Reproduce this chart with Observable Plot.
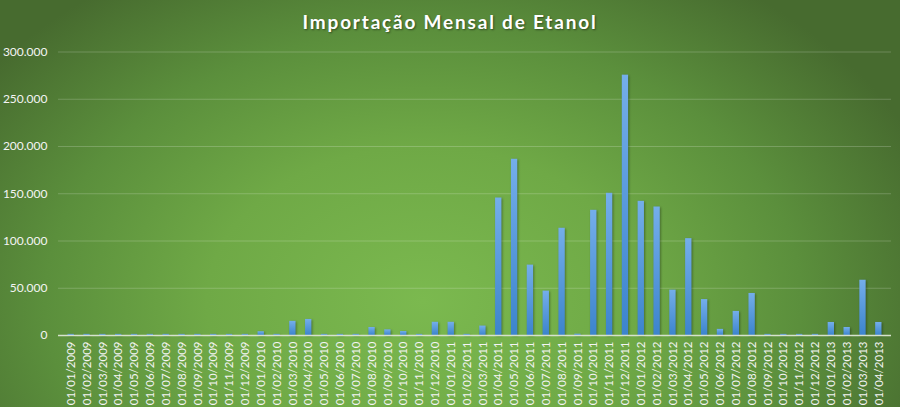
<!DOCTYPE html>
<html><head><meta charset="utf-8">
<script src="https://cdn.jsdelivr.net/npm/d3@7"></script>
<script src="https://cdn.jsdelivr.net/npm/@observablehq/plot@0.6"></script>
<style>
body{margin:0;background:#4a7030}
#wrap{width:900px;height:407px;position:relative;overflow:hidden;
 background:radial-gradient(ellipse 60% 95% at 47% 74%, #7bb94f 0%, #6fa946 40%, #5b8f3c 70%, #476b2f 100%);}
#title{position:absolute;top:0;left:0;width:900px;height:40px;line-height:44px;text-align:center;color:#fff;
 font-family:Lato,"Open Sans",sans-serif;font-weight:bold;font-size:19px;letter-spacing:1.8px;text-shadow:1px 1px 2px rgba(0,0,0,.45)}
#chart{position:absolute;top:40px;left:0}
#chart svg g[aria-label="bar"] rect{filter:drop-shadow(1.5px 1px 1px rgba(0,0,0,.35))}
</style></head>
<body>
<div id="wrap"><div id="title">Importação Mensal de Etanol</div><div id="chart"></div></div>
<script>
const categories = [
 "01/01/2009","01/02/2009","01/03/2009","01/04/2009","01/05/2009","01/06/2009","01/07/2009","01/08/2009","01/09/2009","01/10/2009","01/11/2009","01/12/2009",
 "01/01/2010","01/02/2010","01/03/2010","01/04/2010","01/05/2010","01/06/2010","01/07/2010","01/08/2010","01/09/2010","01/10/2010","01/11/2010","01/12/2010",
 "01/01/2011","01/02/2011","01/03/2011","01/04/2011","01/05/2011","01/06/2011","01/07/2011","01/08/2011","01/09/2011","01/10/2011","01/11/2011","01/12/2011",
 "01/01/2012","01/02/2012","01/03/2012","01/04/2012","01/05/2012","01/06/2012","01/07/2012","01/08/2012","01/09/2012","01/10/2012","01/11/2012","01/12/2012",
 "01/01/2013","01/02/2013","01/03/2013","01/04/2013"
];
const values = [
 1200,1200,1200,1200,1200,1200,1200,1200,1200,1200,1200,1200,
 4000,1200,15000,17000,1200,1200,1200,8500,6000,4200,1200,14000,
 14000,1200,10000,145500,186500,74500,47000,113500,1400,132500,150500,275500,
 142000,136000,48000,102500,38000,6500,25500,44500,1200,1200,1200,1200,
 13800,8500,58500,13800
];
const yTicks = [0,50000,100000,150000,200000,250000,300000];

const fmt = d3.formatLocale({decimal:",",thousands:".",grouping:[3],currency:["",""]}).format(",");
const data = categories.map((c,i)=>({month:c, value:values[i]}));

const svg = Plot.plot({
  width:900, height:367,
  marginLeft:58, marginRight:9, marginTop:11.5, marginBottom:72,
  style:{background:"transparent", color:"#fff", fontFamily:"Lato, 'Open Sans', sans-serif", fontSize:"11px", overflow:"visible"},
  x:{domain:categories, padding:0.6, label:null},
  y:{domain:[0,300000], label:null},
  marks:[
    Plot.gridY(yTicks.slice(1), {stroke:"#ffffff", strokeOpacity:0.2, strokeWidth:1}),
    Plot.barY(data, {x:"month", y:"value", fill:"url(#barGrad)"}),
    Plot.ruleY([0], {stroke:"#d6e2cc", strokeWidth:1.5}),
    Plot.axisX({tickRotate:-90, tickSize:0, tickPadding:6, label:null, fill:"#f4f4f4", fontSize:11.5}),
    Plot.axisY(yTicks, {tickFormat:fmt, tickSize:0, tickPadding:11, label:null, fill:"#f4f4f4", fontSize:12})
  ]
});
const ns = "http://www.w3.org/2000/svg";
const defs = document.createElementNS(ns, "defs");
defs.innerHTML = '<linearGradient id="barGrad" x1="0" y1="0" x2="0" y2="1"><stop offset="0" stop-color="#74aeea"/><stop offset="1" stop-color="#3c84cd"/></linearGradient>';
svg.insertBefore(defs, svg.firstChild);
document.getElementById("chart").appendChild(svg);
</script>
</body></html>
